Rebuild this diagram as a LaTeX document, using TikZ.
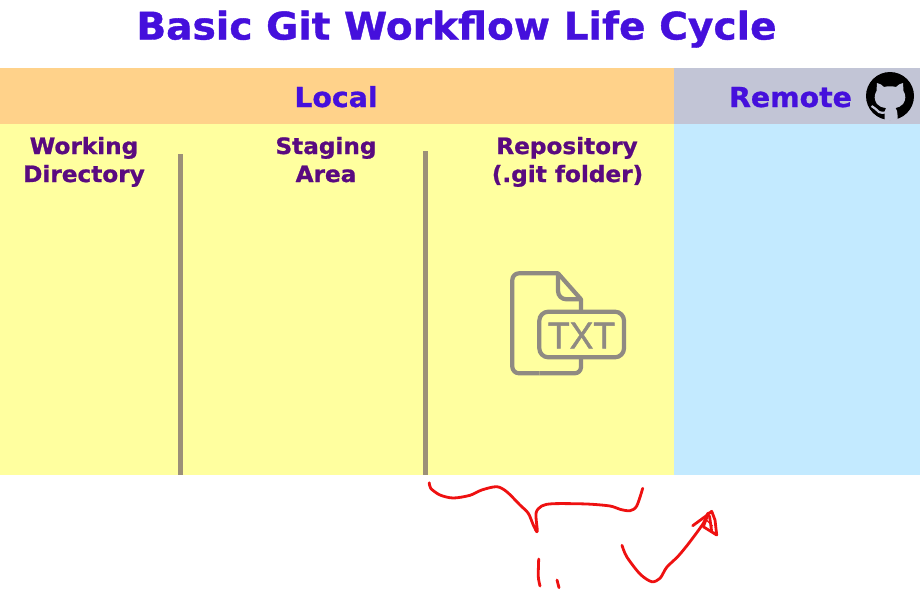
\documentclass[tikz,border=0pt]{standalone}
\usepackage{fontspec}
\setmainfont{DejaVu Sans}[BoldFont={DejaVu Sans Bold},BoldFeatures={FakeBold=1,FakeStretch=1.03}]
\newfontfamily\icontxt{Liberation Sans}[FakeBold=1.2,FakeStretch=0.95]
\definecolor{titleblue}{HTML}{4510DC}
\definecolor{localhead}{HTML}{FFD28A}
\definecolor{remotehead}{HTML}{C2C5D6}
\definecolor{localbody}{HTML}{FFFF9F}
\definecolor{remotebody}{HTML}{C3EAFF}
\definecolor{columnhead}{HTML}{5A0A80}
\definecolor{divider}{HTML}{9C9078}
\definecolor{icongray}{HTML}{8F8A82}
\definecolor{inkred}{HTML}{EE1111}
\tikzset{
  headtext/.style={font=\bfseries\fontsize{27.5}{30}\selectfont,text=titleblue,inner sep=0pt,anchor=base},
  columntext/.style={font=\bfseries\fontsize{22.5}{28}\selectfont,text=columnhead,inner sep=0pt,anchor=base},
  dividerline/.style={divider,line width=5pt},
  iconline/.style={icongray,line width=4.2pt,line join=round},
  ink/.style={inkred,line width=2.8pt,line cap=round,line join=round},
}
\begin{document}
\begin{tikzpicture}[x=1pt,y=-1pt]
\useasboundingbox (0,0) rectangle (920,589);
\fill[localhead] (0,68) rectangle (674,124);
\fill[remotehead] (674,68) rectangle (920,124);
\fill[localbody] (0,124) rectangle (674,475);
\fill[remotebody] (674,124) rectangle (920,475);
\node[inner sep=0pt,anchor=base,font=\bfseries\fontsize{38}{42}\selectfont,text=titleblue] (title) at (456.5,39.5) {Basic Git Workflow Life Cycle};
\node[headtext] (local) at (336,107) {Local};
\node[headtext] (remote) at (790.5,107) {Remote};
\node[columntext] (wd1) at (84,154) {Working};
\node[columntext] (wd2) at (84,182) {Directory};
\node[columntext] (sa1) at (326,154) {Staging};
\node[columntext] (sa2) at (326,182) {Area};
\node[columntext] (repo1) at (567,154) {Repository};
\node[columntext] (repo2) at (567.5,182) {(.git folder)};
\draw[dividerline] (180,154) -- (180,475);
\draw[dividerline] (425,151) -- (425,475);
% github mark
\fill[black] (890,96) circle (24);
\begin{scope}
\clip (890,96) circle (24.5);
\fill[remotehead] (876.5,91) -- (877,83) .. controls (880,83.5) and (882,85) .. (884,87)
  .. controls (888,86) and (892,86) .. (896,87)
  .. controls (898,85) and (900,83.5) .. (903,83) -- (903.5,91)
  .. controls (906,95) and (906,100) .. (903,104)
  .. controls (901,106.5) and (898,107.5) .. (895.5,108)
  .. controls (897,109.5) and (897.5,112) .. (897.5,115) -- (897.5,122) -- (884.5,122) -- (884.5,115)
  .. controls (884.5,112) and (885,109.5) .. (886,108)
  .. controls (882,107.5) and (879,106.5) .. (877,104)
  .. controls (874,100) and (874,95) .. (876.5,91) -- cycle;
\draw[remotehead,line width=2.2pt] (871.5,106) .. controls (875,107) and (876,110.5) .. (879,112) .. controls (881,113) and (883,113) .. (885,112.5);
\end{scope}
% text file icon
\draw[iconline] (539.3,373.3) -- (519,373.3) arc[start angle=90,end angle=180,radius=6.7] -- (512.3,280)
  arc[start angle=180,end angle=270,radius=6.7] -- (558,273.3) -- (581,299.3) -- (581,312);
\draw[iconline] (581,357.3) -- (581,367) arc[start angle=0,end angle=90,radius=6.3] -- (539.3,373.3);
\draw[iconline] (558,273.3) -- (558,291) arc[start angle=180,end angle=90,radius=8.3] -- (581,299.3);
\draw[iconline,rounded corners=9pt] (539.3,311.7) rectangle (624,357.3);
\node[inner sep=0pt,anchor=base,font=\icontxt\fontsize{37.5}{40}\selectfont,text=icongray] (txt) at (581.5,348.5) {TXT};
% red scribbles
\draw[ink] plot[smooth,tension=0.5] coordinates {(429.3,482.7) (430.7,488.3) (440,495) (453.3,498) (470,495.3) (481.7,490) (496.7,486.7) (506.7,491.7) (520,505) (528.3,513.3) (533.3,525) (537.3,531.7) (536,513.3) (541.7,506) (553.3,503.7) (586.7,504) (610,506) (620,509.3) (630,510.7) (636.7,506) (642.7,488.3)};
\draw[ink] plot[smooth,tension=0.5] coordinates {(538.7,559) (538.3,576.7) (540,586)};
\draw[ink] plot[smooth,tension=0.5] coordinates {(557,580) (559,587.7)};
\draw[ink] plot[smooth,tension=0.5] coordinates {(622,545.3) (626.7,556.7) (640,574) (651.7,581.7) (660,578.3) (666.7,567.3) (678.3,556) (690,541.7) (703.3,523.3) (708,513)};
\draw[ink] (692.7,525.7) -- (705,516.7) -- (711.7,511.3) -- (715,520) -- (716.7,535) -- (703.3,526.7) -- (707.7,515);
\draw[ink] (709.5,516) -- (711.7,531.7);
\draw[ink,line width=1.2pt] (706.5,520) -- (712.5,526);
\end{tikzpicture}
\end{document}
